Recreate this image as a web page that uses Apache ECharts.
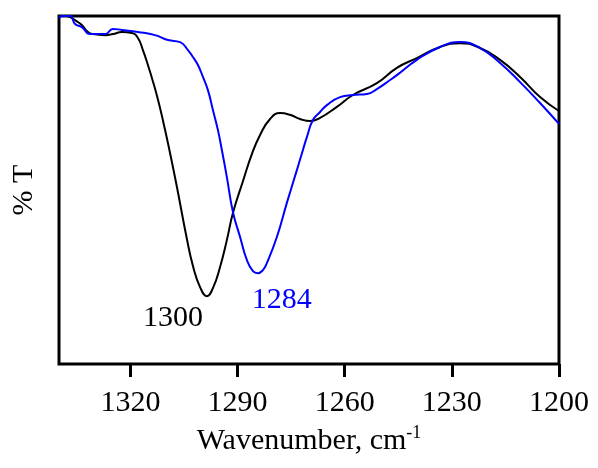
<!DOCTYPE html>
<html>
<head>
<meta charset="utf-8">
<script src="https://cdn.jsdelivr.net/npm/echarts@6/dist/echarts.min.js"></script>
<style>html,body{margin:0;padding:0;background:#fff;}#c{width:598px;height:468px;}</style>
</head>
<body>
<div id="c"></div>
<script>
// Black spectrum (wavenumber, %T)
const blackWn = [1340,1338.0,1336.9,1335.2,1333.6,1331.9,1330.5,1327.1,1324.9,1322.4,1319.6,1317.9,1316.5,1315.1,1313.7,1312.3,1310.9,1309.5,1307.2,1304.2,1302.5,1300.5,1298.6,1296.9,1294.9,1293.0,1291.3,1288.5,1286.0,1283.7,1280.9,1278.1,1275.3,1272.5,1269.7,1266.9,1262.2,1257.7,1251.0,1245.4,1239.8,1233.3,1227.7,1222.1,1216.5,1210.9,1205.3,1200];
const blackT  = [100,100,99.7,98.6,97.4,95.4,94.8,94.5,94.8,95.4,95.1,93.7,90.2,85.9,81.2,76.0,70.0,63.5,52.0,36.0,28.2,22.1,19.5,21.8,27.9,35.6,43.4,52.5,60.3,65.8,70.4,72.1,71.6,70.4,69.8,70.7,73.9,77.3,80.7,85.1,87.9,91.1,92.2,90.8,87.4,82.5,76.7,72.7];
// Blue spectrum (wavenumber, %T)
const blueWn = [1340,1339.2,1336.9,1335.5,1333.6,1331.3,1327.1,1324.9,1322.4,1317.9,1313.1,1309.5,1306.1,1303.9,1302.5,1301.1,1299.7,1298.3,1296.9,1295.5,1294.4,1293.0,1291.3,1289.3,1287.4,1285.7,1284.3,1282.9,1281.8,1279.0,1276.2,1273.4,1271.7,1270.6,1268.9,1266.9,1265.0,1261.3,1257.7,1253.8,1251.0,1247.3,1245.4,1239.8,1233.3,1227.7,1222.1,1216.5,1210.9,1205.3,1200];
const blueT  = [99.4,100,100,97.7,96.8,94.8,94.8,96.3,96.0,95.4,94.5,93.1,92.5,90.2,88.2,85.9,82.5,78.7,73.0,67.2,61.5,53.7,43.7,36.5,29.9,26.7,26.1,27.0,29.0,36.5,46.3,55.7,61.5,65.2,70.1,72.4,74.4,76.7,77.3,77.6,79.0,81.6,83.0,87.4,91.1,92.5,90.8,86.5,81.0,75.0,69.0];
// Peak annotations
const peakLabels = ['1300','1284'];
const peakWn = [1308.1,1277.6];
const peakT = [13.2,18.4];
// Axis
const xTicks = [1200,1230,1260,1290,1320];

const zip = (a,b)=>a.map((v,i)=>[v,b[i]]);
const chart = echarts.init(document.getElementById('c'), null, {renderer:'canvas'});
const serif = 'Liberation Serif, Times New Roman, serif';
chart.setOption({
  backgroundColor:'#fff',
  animation:false,
  grid:{left:59,right:39,top:16,bottom:104,outerBoundsMode:'none',containLabel:false,show:true,borderColor:'#000',borderWidth:3,backgroundColor:'transparent'},
  xAxis:{
    type:'value',inverse:true,min:1200,max:1340,interval:30,
    axisLine:{show:false},
    axisTick:{show:true,inside:false,length:13,lineStyle:{color:'#000',width:3}},
    axisLabel:{color:'#000',fontFamily:serif,fontSize:30,margin:24,showMaxLabel:false,
      formatter:v=>xTicks.includes(v)?String(v):''},
    splitLine:{show:false},
    name:'{a|Wavenumber, cm}{b|-1}',nameLocation:'middle',nameGap:60,
    nameTextStyle:{rich:{a:{fontFamily:serif,fontSize:30,color:'#000'},b:{fontFamily:serif,fontSize:18,color:'#000',verticalAlign:'top',padding:[0,0,16,0]}}}
  },
  yAxis:{
    type:'value',min:0,max:100,
    axisLine:{show:false},axisTick:{show:false},axisLabel:{show:false},splitLine:{show:false},
    name:'% T',nameLocation:'middle',nameGap:20,nameRotate:90,
    nameTextStyle:{fontFamily:serif,fontSize:30,color:'#000'}
  },
  series:[
    {type:'line',data:zip(blackWn,blackT),smooth:true,symbol:'none',lineStyle:{color:'#000',width:2},z:3},
    {type:'line',data:zip(blueWn,blueT),smooth:true,symbol:'none',lineStyle:{color:'#0000ff',width:2},z:4},
    {type:'scatter',symbolSize:0,silent:true,
      data:peakLabels.map((t,i)=>({value:[peakWn[i],peakT[i]],label:{show:true,position:'inside',formatter:t,color:i===0?'#000':'#0000ff',opacity:1,fontFamily:serif,fontSize:30}})),z:5}
  ]
});
</script>
</body>
</html>
